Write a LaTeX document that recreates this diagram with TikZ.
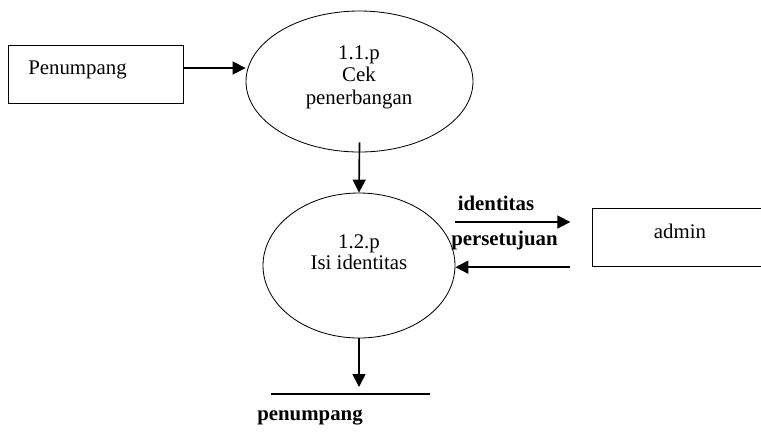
\documentclass[tikz,border=0pt]{standalone}
\usepackage{fontspec}
\setmainfont{Liberation Serif}
\usetikzlibrary{arrows.meta,shapes.geometric}
\tikzset{
  proc/.style={draw,ellipse,inner sep=0pt,line width=0.5pt},
  ent/.style={draw,rectangle,inner sep=0pt,line width=0.6pt,minimum width=105pt,minimum height=34.8pt},
  arr/.style={-{Triangle[length=7.8pt,width=7.8pt]},line width=1pt},
  txt/.style={font=\fontsize{12.5}{13.5}\selectfont,align=center,inner sep=0pt},
  flow/.style={txt,font=\fontsize{12.5}{13.5}\selectfont\bfseries},
}
\begin{document}
\begin{tikzpicture}[x=0.6pt,y=-0.6pt]
\useasboundingbox (0,0) rectangle (761,431);

% entities
\node[ent] (pnp) at (96,74) {};
\node[txt,anchor=west] (pnptxt) at (28,70) {Penumpang};
\node[ent] (admin) at (680,237) {};
\node[txt] (admintxt) at (680,231) {admin};

% processes
\node[proc,minimum width=136.2pt,minimum height=84.6pt] (p11) at (359.5,81.5) {};
\node[txt] (p11txt) at (359,77) {1.1.p\\Cek\\penerbangan};
\node[proc,minimum width=115.2pt,minimum height=87pt] (p12) at (359,265.5) {};
\node[txt] (p12txt) at (359,252) {1.2.p\\[-1pt]Isi identitas};

% data store
\coordinate (sl) at (271,394);
\coordinate (sr) at (430,394);
\draw[line width=0.9pt] (sl) -- (sr);
\node[flow] (dsp) at (310,417) {penumpang};

% flows
\coordinate (e1) at ([yshift=3.6pt]pnp.east);
\draw[arr] (e1) -- (e1 -| p11.west);
\draw[arr] ([yshift=6pt]p11.south) -- (p12.north);
\coordinate (i1) at ([yshift=26.1pt]p12.east);
\coordinate (s1) at ([yshift=-1pt]p12.east);
\draw[arr,shorten >=13pt] (i1) -- (i1 -| admin.west);
\draw[arr,shorten <=13pt] (s1 -| admin.west) -- (s1);
\node[flow] (idt) at (496,203) {identitas};
\node[flow] (pst) at (504.5,240) {persetujuan};
\draw[arr,shorten >=4.2pt] (p12.south) -- (p12.south |- sl);

\end{tikzpicture}
\end{document}
